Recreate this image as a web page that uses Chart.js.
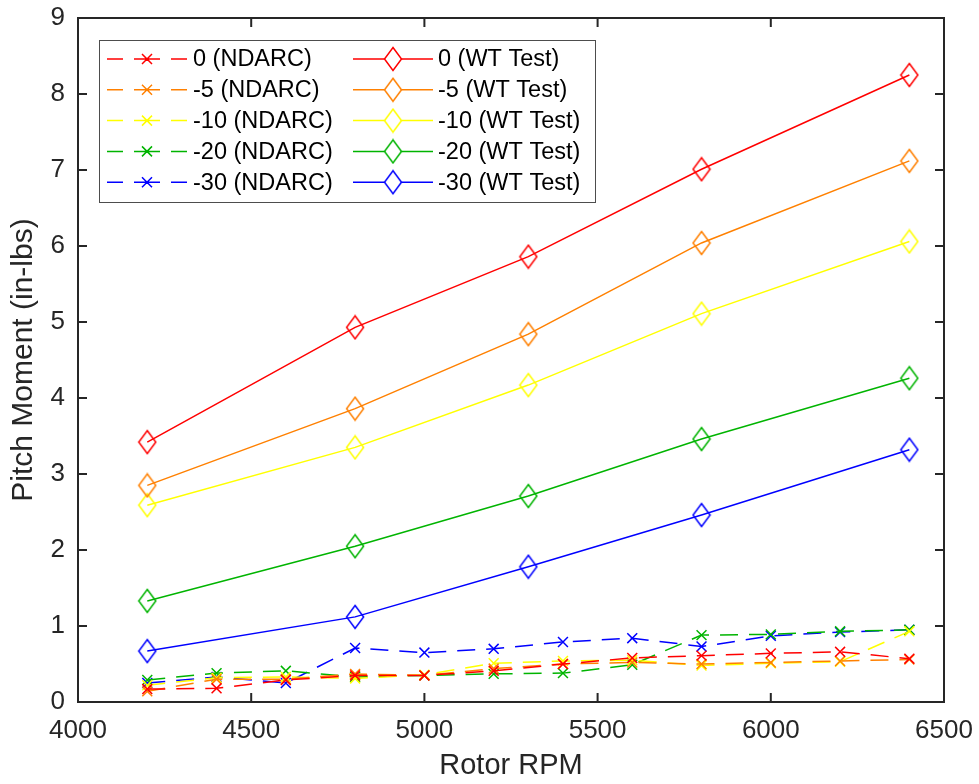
<!DOCTYPE html>
<html>
<head>
<meta charset="utf-8">
<script src="https://cdn.jsdelivr.net/npm/chart.js@4.4.0/dist/chart.umd.min.js"></script>
<style>
html, body { margin: 0; padding: 0; background: #fff; }
</style>
</head>
<body>
<canvas id="myChart" width="979" height="784"></canvas>
<script>
// data
var rpmWT = [4200, 4800, 5300, 5800, 6400];
var wt0  = [3.42, 4.93, 5.86, 7.01, 8.25];
var wt5  = [2.85, 3.86, 4.84, 6.04, 7.12];
var wt10 = [2.59, 3.35, 4.17, 5.11, 6.06];
var wt20 = [1.33, 2.05, 2.71, 3.46, 4.26];
var wt30 = [0.67, 1.12, 1.78, 2.46, 3.32];

var rpmND = [4200, 4400, 4600, 4800, 5000, 5200, 5400, 5600, 5800, 6000, 6200, 6400];
var nd0  = [0.17, 0.18, 0.29, 0.35, 0.35, 0.41, 0.50, 0.58, 0.61, 0.64, 0.66, 0.57];
var nd5  = [0.14, 0.30, 0.30, 0.37, 0.35, 0.44, 0.50, 0.52, 0.50, 0.52, 0.54, 0.56];
var nd10 = [0.22, 0.32, 0.33, 0.31, 0.36, 0.51, 0.54, 0.55, 0.48, 0.51, 0.53, 0.93];
var nd20 = [0.29, 0.38, 0.41, 0.33, 0.35, 0.37, 0.38, 0.49, 0.88, 0.89, 0.93, 0.95];
var nd30 = [0.25, 0.33, 0.25, 0.71, 0.65, 0.70, 0.79, 0.84, 0.73, 0.87, 0.92, 0.95];

var xTicks = [4000, 4500, 5000, 5500, 6000, 6500];
var yTicks = [0, 1, 2, 3, 4, 5, 6, 7, 8, 9];

var cases = ['0', '-5', '-10', '-20', '-30'];
var colors = ['#ff0000', '#ff8000', '#ffff00', '#00b400', '#0000ff'];
var ndSeries = [nd0, nd5, nd10, nd20, nd30];
var wtSeries = [wt0, wt5, wt10, wt20, wt30];

function pts(xs, ys) {
  return xs.map(function (x, i) { return {x: x, y: ys[i]}; });
}

// MATLAB style diamond, taller than wide
function makeDiamond(col) {
  var c = document.createElement('canvas');
  c.width = 20; c.height = 26;
  var g = c.getContext('2d');
  g.strokeStyle = col; g.lineWidth = 1.5;
  g.beginPath();
  g.moveTo(10, 1.5); g.lineTo(18.5, 13); g.lineTo(10, 24.5); g.lineTo(1.5, 13);
  g.closePath(); g.stroke();
  return c;
}

var datasets = [];
for (let i = 0; i < cases.length; i++) {
  datasets.push({
    label: cases[i] + ' (NDARC)',
    data: pts(rpmND, ndSeries[i]),
    borderColor: colors[i],
    borderWidth: 1.5,
    borderDash: [18, 11],
    pointStyle: 'crossRot',
    pointRadius: 7,
    pointBorderWidth: 1.5,
    pointBorderColor: colors[i],
    fill: false,
    tension: 0
  });
}
for (let i = 0; i < cases.length; i++) {
  datasets.push({
    label: cases[i] + ' (WT Test)',
    data: pts(rpmWT, wtSeries[i]),
    borderColor: colors[i],
    borderWidth: 1.5,
    pointStyle: makeDiamond(colors[i]),
    pointRadius: 10,
    fill: false,
    tension: 0
  });
}

var axisCol = '#262626';

// box, inward ticks and the legend inside the axes
var boxPlugin = {
  id: 'matlabBox',
  afterDraw: function (chart) {
    var ctx = chart.ctx, a = chart.chartArea;
    var xs = chart.scales.x, ys = chart.scales.y;
    ctx.save();
    ctx.strokeStyle = axisCol;
    ctx.lineWidth = 2;
    ctx.beginPath();
    xs.ticks.forEach(function (t) {
      var px = xs.getPixelForValue(t.value);
      ctx.moveTo(px, a.bottom); ctx.lineTo(px, a.bottom - 9);
      ctx.moveTo(px, a.top); ctx.lineTo(px, a.top + 9);
    });
    ys.ticks.forEach(function (t) {
      var py = ys.getPixelForValue(t.value);
      ctx.moveTo(a.left, py); ctx.lineTo(a.left + 9, py);
      ctx.moveTo(a.right, py); ctx.lineTo(a.right - 9, py);
    });
    ctx.stroke();
    ctx.strokeRect(a.left, a.top, a.right - a.left, a.bottom - a.top);

    // legend
    var lx = 99, ly = 40, lw = 496, lh = 162;
    ctx.fillStyle = '#fff';
    ctx.fillRect(lx, ly, lw, lh);
    ctx.lineWidth = 1;
    ctx.strokeStyle = '#4d4d4d';
    ctx.strokeRect(lx + 0.5, ly + 0.5, lw, lh);
    ctx.font = '23.5px Arial, "Liberation Sans", sans-serif';
    ctx.textBaseline = 'middle';
    ctx.textAlign = 'left';
    for (let i = 0; i < cases.length; i++) {
      var y = 59 + i * 30.8;
      var col = colors[i];
      ctx.strokeStyle = col;
      ctx.lineWidth = 1.5;
      // dashed NDARC sample
      ctx.beginPath();
      [[107, 123], [134, 160], [171, 187]].forEach(function (s) {
        ctx.moveTo(s[0], y); ctx.lineTo(s[1], y);
      });
      ctx.moveTo(142, y - 5); ctx.lineTo(152, y + 5);
      ctx.moveTo(152, y - 5); ctx.lineTo(142, y + 5);
      ctx.stroke();
      // solid WT sample
      ctx.beginPath();
      ctx.moveTo(353, y); ctx.lineTo(384.5, y);
      ctx.moveTo(401.5, y); ctx.lineTo(433, y);
      ctx.stroke();
      ctx.drawImage(datasets[5 + i].pointStyle, 383, y - 13);
      ctx.fillStyle = '#000';
      ctx.fillText(datasets[i].label, 193, y + 1);
      ctx.fillText(datasets[5 + i].label, 438, y + 1);
    }
    ctx.restore();
  }
};

var tickFont = {family: 'Arial, "Liberation Sans", sans-serif', size: 26};
var xTitleFont = {family: 'Arial, "Liberation Sans", sans-serif', size: 29};
var yTitleFont = {family: 'Arial, "Liberation Sans", sans-serif', size: 30};

var chart = new Chart(document.getElementById('myChart').getContext('2d'), {
  type: 'line',
  data: {datasets: datasets},
  options: {
    responsive: false,
    animation: false,
    events: [],
    layout: {padding: {left: 0, top: 18, right: 35, bottom: 0}},
    plugins: {legend: {display: false}, tooltip: {enabled: false}},
    scales: {
      x: {
        type: 'linear',
        min: 4000, max: 6500,
        afterBuildTicks: function (s) { s.ticks = xTicks.map(function (v) { return {value: v}; }); },
        afterFit: function (s) { s.height = 82; s.paddingLeft = 0; s.paddingRight = 0; },
        grid: {display: false, drawTicks: false},
        border: {display: false},
        ticks: {
          color: axisCol, font: tickFont, padding: 13, autoSkip: false, maxRotation: 0,
          callback: function (v) { return String(v); }
        },
        title: {display: true, text: 'Rotor RPM', color: axisCol, font: xTitleFont, padding: {top: 0, bottom: 1}}
      },
      y: {
        type: 'linear',
        min: 0, max: 9,
        afterBuildTicks: function (s) { s.ticks = yTicks.map(function (v) { return {value: v}; }); },
        afterFit: function (s) { s.width = 78; s.paddingTop = 0; s.paddingBottom = 0; },
        grid: {display: false, drawTicks: false},
        border: {display: false},
        ticks: {color: axisCol, font: tickFont, padding: 13, callback: function (v) { return String(v); }},
        title: {display: true, text: 'Pitch Moment (in-lbs)', color: axisCol, font: yTitleFont, padding: {top: 6, bottom: 0}}
      }
    }
  },
  plugins: [boxPlugin]
});
</script>
</body>
</html>
